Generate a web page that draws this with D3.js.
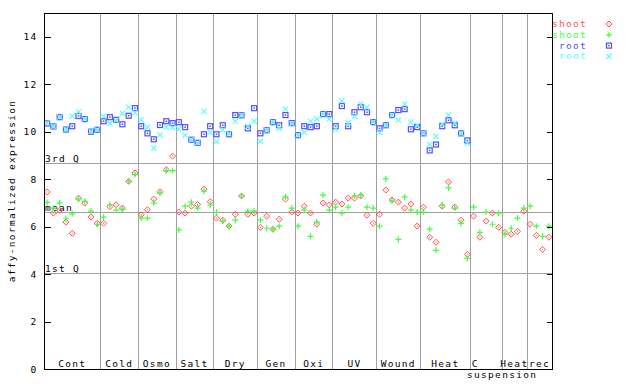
<!DOCTYPE html>
<html>
<head>
<meta charset="utf-8">
<script src="https://cdn.jsdelivr.net/npm/d3@7"></script>
<style>
  body { margin: 0; background: #fff; }
  svg text { font-family: "DejaVu Sans Mono", monospace; font-size: 9.5px; letter-spacing: 1.3px; }
</style>
</head>
<body>
<svg width="640" height="384"></svg>
<script>
// treatment groups and how many samples each one holds
let groups = ["Cont", "Cold", "Osmo", "Salt", "Dry", "Gen", "Oxi", "UV", "Wound", "Heat", "C\nsuspension", "Heat", "rec"];
let groupSizes = [9, 6, 6, 6, 7, 6, 6, 7, 7, 8, 5, 4, 4];

let yTicks = [0, 2, 4, 6, 8, 10, 12, 14];

// reference lines
let refLabels = ["3rd Q", "mean", "1st Q"];
let refValues = [8.67, 6.62, 4.06];

// shoot replicate 1 (red diamonds)
let shootA = [7.46, 6.57, 6.69, 6.19, 5.72, 7.2, 6.99, 6.4, 6.14,
  6.14, 6.84, 6.92, 6.78, 7.91, 8.26,
  6.5, 6.71, 7.16, 7.47, 8.4, 8.97,
  6.61, 6.57, 6.86, 6.93, 7.58, 7.05,
  6.36, 6.27, 6.02, 6.52, 7.29, 6.52, 6.57,
  5.97, 6.44, 5.89, 6.31, 7.16, 6.61,
  6.57, 6.86, 6.57, 6.1, 6.99, 6.91,
  7.03, 6.95, 7.2, 7.2, 7.29, 6.48, 6.14,
  6.52, 7.54, 7.12, 7.03, 6.78, 6.95, 6.02,
  6.82, 5.55, 5.34, 6.86, 7.88, 6.82, 6.27, 4.83,
  6.44, 5.55, 6.23, 6.57, 5.97,
  5.76, 5.68, 5.8, 6.65,
  6.1, 5.63, 5.04, 5.55];

// shoot replicate 2 (green plus)
let shootB = [7.02, 6.78, 6.99, 6.33, 6.54, 7.16, 7.06, 6.65, 6.1,
  6.4, 6.92, 6.69, 6.74, 7.91, 8.19,
  6.36, 6.36, 6.99, 7.42, 8.36, 8.36,
  5.86, 6.86, 7.03, 6.78, 7.49, 6.91,
  6.6, 6.23, 6.02, 6.27, 7.29, 6.65, 6.65,
  6.27, 5.93, 5.89, 6.02, 7.25, 6.78,
  6.02, 6.69, 5.59, 6.19, 7.33, 6.69,
  6.82, 6.57, 6.82, 7.3, 7.33, 6.82, 6.78,
  6.02, 8.01, 7.08, 5.46, 7.25, 6.69, 6.61,
  6.61, 5.89, 5.0, 6.91, 7.63, 6.78, 6.14, 4.66,
  6.82, 5.76, 6.61, 6.1, 6.57,
  5.68, 5.93, 6.36, 6.78,
  6.86, 6.02, 5.59, 6.02];

// root replicate 1 (blue squares) - no root samples after the heat series
let rootA = [10.35, 10.22, 10.61, 10.09, 10.23, 10.66, 10.53, 10.0, 10.08,
  10.44, 10.61, 10.5, 10.31, 10.67, 10.99,
  10.23, 9.93, 9.68, 10.28, 10.44, 10.36,
  10.4, 10.19, 9.66, 9.53, 9.89, 10.23,
  9.89, 10.27, 9.89, 10.7, 10.69, 10.14, 10.99,
  9.93, 10.06, 10.4, 10.27, 10.7, 10.36,
  9.85, 10.23, 10.19, 10.23, 10.74, 10.74,
  10.23, 11.08, 10.23, 10.82, 11.03, 10.82, 10.4,
  10.14, 10.27, 10.7, 10.91, 10.95, 10.1, 10.19,
  9.93, 9.21, 9.46, 10.23, 10.48, 10.27, 9.93, 9.63];

// root replicate 2 (cyan crosses)
let rootB = [10.37, 10.22, 10.62, 10.1, 10.65, 10.83, 10.53, 10.02, 10.08,
  10.65, 10.34, 10.48, 10.78, 11.03, 10.81,
  10.5, 10.19, 9.3, 9.86, 10.19, 10.17,
  10.11, 9.85, 9.66, 9.53, 10.85, 9.97,
  9.59, 10.07, 9.91, 10.44, 10.69, 10.23, 10.44,
  9.59, 10.06, 10.4, 10.14, 10.95, 10.33,
  9.85, 9.97, 10.44, 10.53, 10.74, 10.53,
  10.1, 11.3, 10.38, 10.65, 11.16, 11.03, 10.4,
  9.97, 10.27, 10.7, 10.48, 11.16, 10.4, 10.27,
  9.93, 9.46, 9.8, 10.31, 10.7, 10.36, 9.93, 9.51];

let series = [
  { name: "shoot", values: shootA, color: "#ff5050", symbol: "diamond" },
  { name: "shoot", values: shootB, color: "#40ff40", symbol: "plus" },
  { name: "root", values: rootA, color: "#5050ff", symbol: "square" },
  { name: "root", values: rootB, color: "#50ffff", symbol: "cross" }
];

let svg = d3.select("svg"),
  plotL = 44, plotR = 552, plotT = 13, plotB = 369;

let nSamples = d3.sum(groupSizes);

let x = d3.scaleLinear().domain([-0.5, nSamples - 0.5]).range([plotL, plotR]);
let y = d3.scaleLinear().domain([0, 15]).range([plotB, plotT]);

svg.append("rect").attr("width", 640).attr("height", 384).attr("fill", "#fff");

// group boundaries
let bounds = [0];
groupSizes.forEach(n => bounds.push(bounds[bounds.length - 1] + n));

let grid = svg.append("g")
  .attr("stroke", "#a0a0a0")
  .attr("shape-rendering", "crispEdges");

grid.selectAll("line.v")
  .data(bounds.slice(1, -1))
  .enter().append("line")
  .attr("class", "v")
  .attr("x1", d => Math.round(x(d - 0.5)) + 0.5)
  .attr("x2", d => Math.round(x(d - 0.5)) + 0.5)
  .attr("y1", plotT)
  .attr("y2", plotB);

grid.selectAll("line.h")
  .data(refValues)
  .enter().append("line")
  .attr("class", "h")
  .attr("x1", plotL)
  .attr("x2", plotR)
  .attr("y1", d => Math.round(y(d)) + 0.5)
  .attr("y2", d => Math.round(y(d)) + 0.5);

svg.selectAll("text.ref")
  .data(refLabels)
  .enter().append("text")
  .attr("class", "ref")
  .attr("x", plotL + 1)
  .attr("y", (d, i) => Math.round(y(refValues[i])) - 1)
  .text(d => d);

// marker shapes
function marker(sel, symbol, color) {
  let r = 3;
  if (symbol === "diamond") {
    sel.append("path")
      .attr("d", `M0,${-r}L${r},0L0,${r}L${-r},0Z`)
      .attr("fill", "none").attr("stroke", color).attr("stroke-width", 1);
    sel.append("rect").attr("x", -0.5).attr("y", -0.5).attr("width", 1).attr("height", 1).attr("fill", color);
  } else if (symbol === "plus") {
    sel.append("path")
      .attr("d", `M${-r},0H${r}M0,${-r}V${r}`)
      .attr("stroke", color).attr("stroke-width", 1.2);
  } else if (symbol === "square") {
    sel.append("rect")
      .attr("x", -2.5).attr("y", -2.5).attr("width", 5).attr("height", 5)
      .attr("fill", "none").attr("stroke", color).attr("stroke-width", 1.2);
    sel.append("rect").attr("x", -0.75).attr("y", -0.75).attr("width", 1.5).attr("height", 1.5).attr("fill", color);
  } else {
    let c = 2.6;
    sel.append("path")
      .attr("d", `M${-c},${-c}L${c},${c}M${-c},${c}L${c},${-c}`)
      .attr("stroke", color).attr("stroke-width", 1.1);
  }
}

series.forEach(s => {
  let pts = s.values.map((v, i) => ({ i: i, v: v })).filter(d => d.v != null);
  let g = svg.append("g");
  g.selectAll("g")
    .data(pts)
    .enter().append("g")
    .attr("transform", d => "translate(" + x(d.i) + "," + y(d.v) + ")")
    .each(function() { marker(d3.select(this), s.symbol, s.color); });
});

// frame and ticks
svg.append("rect")
  .attr("x", plotL + 0.5).attr("y", plotT + 0.5)
  .attr("width", plotR - plotL).attr("height", plotB - plotT)
  .attr("fill", "none").attr("stroke", "#000")
  .attr("shape-rendering", "crispEdges");

let axisL = d3.axisLeft(y).tickValues(yTicks).tickSizeInner(-6).tickSizeOuter(0).tickPadding(7);
let axisR = d3.axisRight(y).tickValues(yTicks).tickSizeInner(-6).tickSizeOuter(0).tickFormat("");

svg.append("g").attr("transform", `translate(${plotL + 0.5},0)`).call(axisL)
  .call(g => g.select(".domain").remove())
  .call(g => g.selectAll("text").attr("font-family", null).attr("font-size", null).attr("fill", "#000"));
svg.append("g").attr("transform", `translate(${plotR + 0.5},0)`).call(axisR)
  .call(g => g.select(".domain").remove());

svg.selectAll(".tick line").attr("shape-rendering", "crispEdges");

svg.append("text")
  .attr("transform", `translate(15,${(plotT + plotB) / 2}) rotate(-90)`)
  .attr("text-anchor", "middle")
  .text("affy-normalized expression");

// category labels
let cats = svg.append("g").attr("text-anchor", "middle");
groups.forEach((name, k) => {
  let cx = (x(bounds[k] - 0.5) + x(bounds[k + 1] - 0.5)) / 2;
  let lines = name.split("\n");
  lines.forEach((ln, j) => {
    let dx = lines.length > 1 ? (j === 0 ? -11 : 16) : 0;
    cats.append("text")
      .attr("x", cx + dx)
      .attr("y", 367 + j * 11)
      .text(ln);
  });
});

// legend
let legend = svg.append("g");
series.forEach((s, k) => {
  let ly = 24 + k * 10.8;
  legend.append("text")
    .attr("x", 587)
    .attr("y", ly + 3)
    .attr("text-anchor", "end")
    .attr("fill", s.color)
    .text(s.name);
  let m = legend.append("g").attr("transform", `translate(609,${ly})`);
  marker(m, s.symbol, s.color);
});
</script>
</body>
</html>
